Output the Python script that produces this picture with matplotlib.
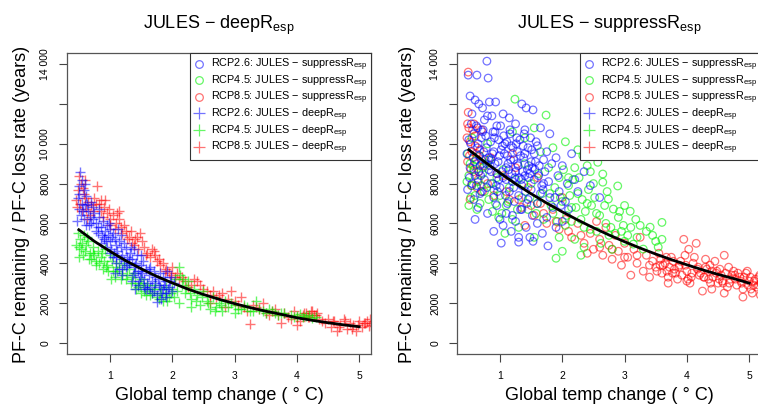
import matplotlib
matplotlib.use("Agg")
import matplotlib.pyplot as plt
from matplotlib.lines import Line2D

plt.rcParams['font.family'] = ['Liberation Sans', 'DejaVu Sans']
plt.rcParams['mathtext.fontset'] = 'custom'
plt.rcParams['mathtext.rm'] = 'Liberation Sans'
plt.rcParams['mathtext.it'] = 'Liberation Sans:italic'

# ---- data ----
# left panel: JULES - deepR_esp ('+' markers)
deep26_x = [0.52, 0.55, 0.50, 0.58, 0.62, 0.48, 0.55, 0.60, 0.50, 0.65, 0.53, 0.58, 0.47, 0.62, 0.68, 0.72, 0.75, 0.70,
            0.78, 0.82, 0.85, 0.88, 0.80, 0.92, 0.95, 0.90, 0.97, 1.00, 0.85, 0.95, 1.00, 1.02,
            1.05, 1.08, 1.10, 1.12, 1.05, 1.15, 1.18, 1.20, 1.10, 1.22, 1.25, 1.28, 1.15, 1.25, 1.30, 1.08, 1.20, 1.32, 1.18,
            1.35, 1.38, 1.40, 1.42, 1.45, 1.48, 1.50, 1.35, 1.45, 1.52, 1.55, 1.58, 1.40, 1.55, 1.60, 1.50, 1.38,
            1.62, 1.65, 1.68, 1.70, 1.72, 1.75, 1.78, 1.80, 1.82, 1.85, 1.88, 1.90, 1.92, 1.95, 1.98, 2.02, 1.75, 1.65, 1.85, 2.00,
            0.50, 0.57, 0.63, 0.67, 0.73, 0.77, 0.83, 0.87, 0.93, 0.98, 1.03, 1.07, 1.13, 1.17, 1.23, 1.27, 1.33, 1.37, 1.43, 1.47,
            1.53, 1.57, 1.63, 1.67, 1.73, 1.77, 1.83, 1.87, 1.93, 1.97, 0.60, 0.70, 0.80, 0.90, 1.00, 1.10, 1.20, 1.30, 1.40, 1.50,
            1.60, 1.70, 1.80, 1.90]
deep26_y = [8600, 8200, 7900, 7700, 7400, 7300, 7000, 6900, 6700, 6600, 6400, 6200, 6100, 5900, 6300, 6800, 6500, 7100,
            6000, 6300, 5800, 6100, 5500, 5600, 5900, 5200, 5400, 5700, 5000, 4800, 5100, 4700,
            5500, 5200, 4900, 4600, 4300, 5100, 4800, 4400, 4000, 4100, 4700, 4300, 3700, 3800, 4000, 3500, 3400, 4500, 5400,
            4200, 3800, 3500, 4000, 3600, 3300, 3900, 3100, 2900, 3500, 3200, 3700, 2700, 2800, 3000, 4400, 4700,
            3400, 2800, 3100, 2600, 3300, 2400, 2900, 3500, 2200, 2700, 3100, 2500, 3600, 2800, 3300, 3000, 2050, 3800, 3300, 2600,
            7500, 6600, 7000, 5900, 6200, 5600, 6700, 5400, 5100, 6000, 5300, 4500, 5700, 4200, 5000, 3900, 4800, 3400, 4400, 3100,
            4100, 2700, 3700, 2500, 3000, 3200, 2500, 2900, 2700, 3100, 8000, 6000, 5800, 5300, 4500, 4300, 3700, 4200, 3900, 3600,
            2700, 3600, 2800, 2300]

deep45_x = [0.48, 0.52, 0.50, 0.55, 0.58, 0.60, 0.62, 0.65, 0.50, 0.68, 0.70, 0.72, 0.75, 0.78, 0.80,
            0.85, 0.88, 0.90, 0.95, 1.00, 1.05, 1.08, 1.10, 1.15, 1.20, 1.25, 1.30, 0.92, 1.02,
            1.35, 1.40, 1.45, 1.50, 1.55, 1.60, 1.65, 1.70, 1.75, 1.80, 1.85, 1.90, 1.95, 1.50,
            2.00, 2.05, 2.10, 2.12, 2.15, 2.20, 2.25, 2.30, 2.35, 2.40, 2.45, 2.50, 2.55, 2.60, 2.65, 2.70, 2.75, 2.80, 2.10, 2.30,
            2.85, 2.90, 3.00, 3.10, 3.20, 3.30, 3.40, 3.50, 3.60, 3.70, 3.80, 3.90, 4.00, 4.10, 4.20, 4.30, 3.00, 3.35,
            0.46, 0.53, 0.57, 0.63, 0.67, 0.73, 0.77, 0.83, 0.87, 0.93, 0.97, 1.03, 1.12, 1.18, 1.22, 1.28, 1.33, 1.38, 1.42, 1.48,
            1.53, 1.58, 1.62, 1.68, 1.72, 1.78, 1.82, 1.88, 1.92, 1.98, 2.02, 2.08, 2.18, 2.22, 2.28, 2.38, 2.48, 2.58, 2.68, 2.78,
            2.95, 3.05, 3.15, 3.25, 3.45, 3.55, 3.65, 3.75, 3.95, 4.05, 4.15, 4.25]
deep45_y = [5500, 5200, 4800, 5000, 5400, 4600, 4900, 5100, 4300, 4500, 4200, 4800, 4400, 3900, 4600,
            4300, 3700, 4100, 3900, 4400, 3600, 3300, 3800, 4000, 3500, 3200, 3700, 4700, 3200,
            3300, 3000, 2800, 3200, 2600, 2900, 2400, 2700, 2300, 2500, 2100, 2800, 2300, 2500,
            2700, 3200, 3800, 3400, 2900, 2500, 3100, 2200, 2700, 2400, 1900, 2600, 2100, 1700, 2300, 1800, 2000, 1600, 2000, 1800,
            2100, 1800, 1900, 1700, 1800, 1600, 1700, 1500, 1600, 1400, 1500, 1400, 1350, 1300, 1400, 1300, 1500, 2100,
            4900, 4700, 4400, 5300, 4200, 4500, 4100, 4000, 4500, 3800, 3600, 4100, 3600, 3200, 3900, 3400, 3000, 3500, 2700, 2900,
            3000, 2400, 2700, 2500, 2900, 2200, 2700, 2400, 2100, 2500, 2300, 2600, 3200, 2800, 2500, 2100, 2300, 2000, 1600, 1900,
            2000, 1700, 1900, 1600, 1600, 1700, 1500, 1500, 1300, 1450, 1350, 1250]

deep85_x = [0.50, 0.53, 0.48, 0.57, 0.60, 0.52, 0.65, 0.55, 0.47, 0.62, 0.70, 0.79, 0.75, 0.68,
            0.82, 0.85, 0.90, 0.88, 0.95, 1.00, 1.05, 1.10, 1.15, 1.08, 1.18, 1.20, 1.00,
            1.25, 1.30, 1.35, 1.40, 1.45, 1.48, 1.55, 1.60, 1.65, 1.70, 1.75, 1.80,
            1.85, 1.90, 1.95, 2.00, 2.05, 2.10, 2.20, 2.30, 2.40, 2.50, 2.55,
            2.65, 2.70, 2.80, 2.90, 3.00, 3.10, 3.15, 3.20, 3.25, 3.30, 3.40, 3.45, 3.50, 2.60, 2.85,
            3.60, 3.70, 3.80, 3.90, 4.00, 4.05, 4.10, 4.15, 4.20, 4.25, 4.30, 4.35, 3.75, 4.00,
            4.45, 4.50, 4.55, 4.60, 4.70, 4.75, 4.80, 4.85, 4.90, 4.95, 5.00, 5.05, 5.10, 5.15, 5.18, 4.65,
            0.45, 0.58, 0.63, 0.72, 0.77, 0.92, 0.98, 1.12, 1.22, 1.28, 1.33, 1.38, 1.43, 1.52, 1.58, 1.68, 1.72, 1.78, 1.88, 1.98,
            2.08, 2.15, 2.25, 2.35, 2.45, 2.60, 2.75, 2.95, 3.05, 3.35, 3.55, 3.65, 3.85, 3.95, 4.12, 4.18, 4.22, 4.28, 4.32, 4.40,
            4.58, 4.68, 4.78, 4.88, 4.98, 5.08, 5.12, 5.19, 0.60, 0.85, 1.15]
deep85_y = [8400, 8000, 7700, 7800, 7300, 7000, 7100, 6600, 6800, 6700, 6900, 7900, 7300, 6400,
            7000, 6600, 6800, 6300, 6500, 6200, 6400, 6000, 6200, 5700, 5800, 5500, 5900,
            5600, 5300, 5000, 5200, 4700, 5500, 4800, 4500, 4300, 4600, 4100, 3900,
            4000, 3700, 3500, 3800, 3300, 3200, 3100, 2900, 3100, 2700, 2600,
            2600, 2300, 2500, 2200, 2100, 2300, 1800, 1600, 950, 1900, 1700, 2000, 1500, 2000, 1800,
            1600, 1400, 1500, 1200, 1300, 1100, 1400, 1500, 1300, 1600, 1400, 1200, 1000, 900,
            1000, 1200, 800, 1100, 900, 1200, 700, 1000, 900, 600, 1100, 800, 1000, 850, 1200, 600,
            7200, 7500, 6200, 6600, 7000, 7200, 6700, 6500, 5900, 5200, 5600, 4900, 5300, 5100, 4400, 4700, 4400, 4200, 3600, 3400,
            3500, 3300, 2800, 3200, 2900, 2400, 2400, 2600, 1900, 1800, 1400, 1700, 1300, 1600, 1500, 1300, 1600, 1400, 1500, 1100,
            1100, 800, 1100, 700, 900, 1000, 1100, 900, 8200, 7200, 6600]

# right panel: JULES - suppressR_esp ('o' markers)
supp26_x = [0.49, 0.63, 0.79, 0.81, 0.52, 0.60, 0.66, 0.72, 0.83, 0.93, 1.35, 1.42, 1.53, 0.55, 0.75, 0.87, 1.05, 1.15, 1.25, 0.95, 1.40, 1.65, 1.80,
            0.50, 0.58, 0.65, 0.70, 0.78, 0.85, 0.90, 0.98, 1.02, 1.08, 1.12, 1.18, 1.22, 1.28, 1.32, 1.38, 1.45, 1.50, 1.55, 1.60, 1.70, 1.75, 1.90, 2.00, 2.15, 2.35, 2.20,
            0.52, 0.60, 0.68, 0.75, 0.82, 0.88, 0.95, 1.00, 1.05, 1.10, 1.15, 1.20, 1.25, 1.30, 1.35, 1.40, 1.45, 1.50, 1.55, 1.60, 1.65, 1.70, 1.80, 1.85, 1.95, 2.05, 2.10, 0.70, 0.90, 1.12, 0.58, 0.48,
            0.65, 0.80, 0.95, 1.00, 1.05, 1.10, 1.18, 1.25, 1.30, 1.35, 1.42, 1.48, 1.53, 1.60, 1.68, 1.77, 1.02, 1.30, 1.75, 1.90, 2.00,
            0.47, 0.51, 0.54, 0.57, 0.62, 0.64, 0.67, 0.69, 0.73, 0.76, 0.79, 0.82, 0.86, 0.89, 0.92, 0.96, 0.99, 1.03, 1.06, 1.09,
            1.13, 1.16, 1.19, 1.23, 1.26, 1.29, 1.33, 1.36, 1.39, 1.43, 1.46, 1.49, 1.52, 1.56, 1.58, 1.62, 1.67, 1.72, 1.78, 1.83,
            1.88, 1.93, 1.98, 2.08, 2.25, 2.45, 2.60, 0.55, 0.62, 0.68, 0.74, 0.80, 0.86, 0.92, 0.98, 1.04, 1.10, 1.16, 1.22, 1.28,
            1.34, 1.40, 1.46, 1.52, 0.60, 0.90, 1.20,
            0.53, 0.59, 0.64, 0.71, 0.77, 0.84, 0.91, 0.97, 1.01, 1.07, 1.14, 1.21, 1.27, 1.31, 1.37, 1.44, 1.51, 1.57, 0.66, 0.72,
            0.88, 0.94, 1.11, 1.17, 1.24, 1.33, 1.41, 1.48, 1.63, 1.69]
supp26_y = [13450, 13450, 14150, 13300, 12400, 12200, 12000, 11800, 12100, 12100, 12000, 11800, 11700, 11500, 11200, 11400, 11500, 11300, 11000, 10900, 10700, 10800, 10500,
            10200, 10500, 10000, 10300, 9800, 10100, 9600, 10200, 9700, 10000, 9400, 9900, 9200, 9600, 10200, 9300, 9800, 9100, 9500, 9900, 9200, 9600, 9300, 8900, 9500, 8600, 8200,
            8800, 8400, 8900, 8200, 8700, 8000, 8500, 7800, 8300, 8800, 7600, 8100, 8600, 7400, 7900, 8400, 7200, 7700, 8200, 7000, 7500, 8000, 7300, 6800, 7600, 7100, 6700, 7600, 7300, 7000, 7200, 7700,
            6800, 6500, 6900, 6200, 5900, 6500, 5600, 6100, 5300, 6700, 5800, 5300, 5100, 6000, 5500, 4870, 5010, 5060, 6300, 5800, 6100,
            9500, 8300, 11000, 9300, 7900, 10800, 9400, 8400, 10700, 9200, 7800, 9300, 8600, 10600, 9000, 7600, 9400, 8600, 10400, 7400,
            9000, 10500, 8500, 7100, 10000, 8900, 6700, 8600, 10500, 7000, 8900, 10300, 6400, 8700, 10100, 8400, 7900, 8600, 8100, 9000,
            7300, 8400, 6900, 8000, 7600, 7900, 7300, 8000, 10900, 7500, 9600, 11400, 9200, 10600, 8200, 9900, 8200, 10700, 7800, 9000,
            8200, 9500, 8300, 8800, 6200, 5600, 6400,
            10000, 9100, 9800, 9000, 10400, 8900, 10300, 9100, 10900, 9500, 8700, 9800, 10300, 8300, 9900, 8700, 9700, 9100, 8600, 10600,
            9500, 7900, 10100, 9200, 8300, 9400, 7600, 8500, 8900, 7700]

supp45_x = [0.48, 0.52, 0.50, 0.55, 0.58, 0.60, 0.62, 0.65, 0.68, 0.72, 0.75, 0.50, 0.78, 0.82, 0.85, 0.88, 0.90, 0.95, 0.98, 0.55, 0.80,
            1.00, 1.05, 1.08, 1.10, 1.15, 1.20, 1.24, 1.25, 1.30, 1.35, 1.40, 1.45, 1.50, 1.55, 1.60, 1.65, 1.70, 1.40, 1.55, 1.74, 1.20, 1.62,
            1.80, 1.85, 1.90, 1.95, 2.00, 2.05, 2.10, 2.15, 2.20, 2.25, 2.30, 2.33, 2.35, 2.40, 2.45, 2.50, 2.55, 2.57, 2.45, 1.85, 2.05, 2.20, 2.00, 2.30,
            2.65, 2.65, 2.74, 2.82, 2.89, 2.70, 2.75, 2.80, 2.90, 2.95, 3.00, 3.09, 3.10, 3.14, 3.20, 3.30, 3.35, 3.41, 3.50, 3.54, 3.60, 3.60, 2.62, 3.00,
            0.47, 0.53, 0.57, 0.63, 0.67, 0.70, 0.73, 0.83, 0.93, 1.03, 1.13, 1.28, 1.38, 1.48, 1.58, 1.68, 1.78, 1.82, 1.88, 1.92,
            1.97, 2.02, 2.07, 2.12, 2.17, 2.22, 2.27, 2.32, 2.37, 2.42, 2.47, 2.52, 2.60, 2.68, 2.72, 2.78, 2.85, 2.92, 2.98, 3.05,
            3.18, 3.25, 3.45, 1.95, 2.15, 2.35, 2.55, 2.10, 2.40, 2.25]
supp45_y = [9500, 9000, 8400, 7900, 8700, 7400, 9200, 8100, 7000, 8500, 7600, 6900, 9000, 7200, 8000, 6600, 7700, 8300, 6300, 10300, 10000,
            7400, 8700, 5500, 6900, 7800, 6200, 12240, 8200, 5800, 7300, 9000, 6700, 8000, 5300, 7000, 9600, 6200, 10300, 10800, 11440, 10600, 8500,
            7500, 6500, 4250, 8300, 7100, 5900, 7900, 6800, 5200, 7500, 6200, 9400, 4800, 7000, 5700, 8000, 6500, 9070, 8600, 9800, 10100, 8800, 4600, 4400,
            8480, 8070, 7220, 6720, 7880, 6000, 5400, 4700, 6300, 5600, 5100, 6610, 5800, 4960, 5300, 4710, 5600, 5810, 5100, 4810, 6050, 5200, 5000, 6900,
            8100, 7300, 8900, 6700, 9400, 7900, 8800, 9200, 7000, 6500, 7100, 6700, 8000, 7300, 6500, 7500, 8800, 6900, 7800, 6100,
            7300, 8700, 6400, 7400, 8200, 6800, 8300, 7200, 6600, 7700, 6900, 7300, 6400, 6900, 7600, 5800, 5500, 6600, 5900, 5400,
            6200, 5900, 5400, 5300, 6100, 5800, 5600, 8300, 8900, 9700]

supp85_x = [0.49, 0.49, 0.50, 0.52, 0.55, 0.48, 0.58, 0.60, 0.62, 0.65, 0.68, 0.72, 0.75, 0.52, 0.80, 0.85, 0.90, 0.58, 0.70,
            1.05, 1.15, 1.25, 1.35, 1.45, 1.55, 1.65, 1.75, 1.85, 1.95, 2.05, 2.15, 2.25, 2.35, 1.20, 1.60, 2.00, 1.40,
            2.45, 2.50, 2.55, 2.60, 2.65, 2.70, 2.75, 2.80, 2.85, 2.90, 2.95, 3.00, 3.05, 3.10, 3.15, 3.20, 3.25, 3.30, 3.35, 3.40, 3.45, 3.50,
            3.55, 3.60, 3.65, 3.70, 3.75, 3.80, 3.85, 3.90, 3.95, 4.00, 4.05, 4.10, 4.15, 4.20, 4.25, 4.30, 4.35, 4.40, 4.45, 4.50,
            4.55, 4.60, 4.65, 4.70, 4.75, 4.80, 4.85, 4.90, 4.95, 5.00, 5.05, 5.10, 5.15, 5.18, 4.00, 3.70, 4.40,
            0.47, 0.51, 0.53, 0.56, 0.60, 0.63, 0.66, 0.70, 0.48, 0.54, 0.62, 0.95, 1.10, 1.30, 1.50, 1.70, 1.90, 2.10, 2.30, 2.40,
            2.60, 2.80, 3.00, 3.20, 3.40, 3.52, 3.58, 3.62, 3.68, 3.72, 3.78, 3.82, 3.88, 3.92, 3.98, 4.02, 4.08, 4.12, 4.18, 4.22,
            4.28, 4.32, 4.38, 4.42, 4.48, 4.52, 4.58, 4.62, 4.68, 4.72, 4.78, 4.82, 4.88, 4.92, 4.98, 5.02, 5.08, 5.12, 5.16, 5.19,
            4.30, 4.60, 4.90,
            3.57, 3.67, 3.77, 3.87, 3.97, 4.07, 4.17, 4.27, 4.37, 4.47, 4.57, 4.67, 4.77, 4.87, 4.97, 5.07, 5.17, 4.03, 4.53, 5.03]
supp85_y = [13600, 11580, 10800, 10100, 9600, 9100, 8600, 10400, 9000, 8200, 9700, 7600, 8900, 7200, 8000, 9300, 7400, 11000, 10700,
            8400, 7200, 8800, 6800, 7800, 6400, 7000, 6000, 6700, 5700, 6200, 5300, 6000, 5000, 9500, 8300, 7300, 5900,
            5500, 4700, 6100, 5200, 4400, 5800, 4900, 4200, 5400, 4600, 3900, 5000, 4300, 3400, 4700, 4000, 5300, 3600, 4400, 3300, 4100, 3800,
            4500, 3500, 4000, 3300, 4300, 3700, 3200, 4100, 5200, 3600, 3000, 4000, 5000, 3400, 2600, 3800, 3200, 3600, 4100, 3000,
            3400, 4400, 2800, 3200, 3600, 2900, 3300, 2700, 3500, 3100, 2500, 3200, 2900, 2400, 3100, 3000, 2700,
            10300, 9400, 8700, 10700, 9900, 7800, 8600, 9200, 11000, 7900, 9500, 8500, 7600, 7200, 6900, 6500, 6100, 5600, 5400, 4500,
            4800, 4700, 4300, 4400, 3900, 3600, 4200, 3900, 3600, 3800, 4100, 3500, 3900, 3400, 3900, 3200, 3500, 4300, 3800, 3500,
            3300, 3700, 3000, 3300, 3600, 3200, 3000, 3500, 3000, 3400, 3200, 3500, 3000, 3300, 2900, 3300, 3100, 2800, 3300, 3000,
            4200, 2500, 2300,
            3900, 4300, 3500, 3800, 4400, 3300, 3700, 3300, 3900, 3500, 3100, 3800, 3400, 3100, 3600, 2900, 3400, 4700, 3700, 2700]

# fitted curves
fit_x = [0.5, 0.75, 1.0, 1.25, 1.5, 1.75, 2.0, 2.25, 2.5, 2.75, 3.0, 3.25, 3.5, 3.75, 4.0, 4.25, 4.5, 4.75, 5.0]
fit_deep = [5680, 5100, 4600, 4130, 3720, 3340, 3010, 2700, 2430, 2190, 1970, 1770, 1590, 1430, 1260, 1130, 1010, 905, 810]
fit_supp = [9700, 9100, 8530, 7990, 7490, 7020, 6580, 6170, 5780, 5420, 5080, 4760, 4460, 4180, 3920, 3670, 3440, 3230, 3000]

yticks = [0, 2000, 4000, 6000, 8000, 10000, 12000, 14000]
ytick_labels = ['0', '2000', '4000', '6000', '8000', '10 000', '', '14 000']
xticks = [1, 2, 3, 4, 5]

blue = (0, 0, 1, 0.55)
green = (0, 0.95, 0, 0.6)
red = (1, 0, 0, 0.55)

legend_labels = [r'RCP2.6: JULES $-$ suppressR$_{\mathrm{esp}}$',
                 r'RCP4.5: JULES $-$ suppressR$_{\mathrm{esp}}$',
                 r'RCP8.5: JULES $-$ suppressR$_{\mathrm{esp}}$',
                 r'RCP2.6: JULES $-$ deepR$_{\mathrm{esp}}$',
                 r'RCP4.5: JULES $-$ deepR$_{\mathrm{esp}}$',
                 r'RCP8.5: JULES $-$ deepR$_{\mathrm{esp}}$']

fig = plt.figure(figsize=(7.58, 4.08), dpi=100)
W, H = 758.0, 408.0
ax1 = fig.add_axes([67 / W, 54 / H, 304 / W, 301 / H])
ax2 = fig.add_axes([457 / W, 54 / H, 304 / W, 301 / H])


def style_axis(ax):
    ax.set_xlim(0.31, 5.19)
    ax.set_ylim(-560, 14560)
    ax.set_xticks(xticks)
    ax.set_xticklabels([str(t) for t in xticks])
    ax.set_yticks(yticks)
    ax.set_yticklabels(ytick_labels, rotation=90, va='center')
    ax.tick_params(axis='both', length=6, width=0.8, color='#444444', labelsize=7.5, pad=6)
    for sp in ax.spines.values():
        sp.set_color('#555555')
        sp.set_linewidth(0.9)


def add_legend(ax):
    handles = []
    for c in (blue, green, red):
        handles.append(Line2D([], [], ls='', marker='o', markersize=5.5, mfc='none', mec=c, mew=0.9))
    for c in (blue, green, red):
        handles.append(Line2D([], [], ls='', marker='+', markersize=8, mec=c, mew=0.9))
    leg = ax.legend(handles, legend_labels, loc='upper right', bbox_to_anchor=(1, 1), borderaxespad=0,
                    fancybox=False, framealpha=1, edgecolor='#333333', fontsize=7.8,
                    handlelength=1.0, handletextpad=0.6, labelspacing=0.02, borderpad=0.35)
    leg.get_frame().set_linewidth(0.8)


# left: deep
plus_kw = dict(marker='+', s=55, linewidths=1.0)
ax1.scatter(deep85_x, deep85_y, color=red, **plus_kw)
ax1.scatter(deep45_x, deep45_y, color=green, **plus_kw)
ax1.scatter(deep26_x, deep26_y, color=blue, **plus_kw)
ax1.plot(fit_x, fit_deep, color='black', lw=2)
style_axis(ax1)
add_legend(ax1)

# right: suppress
circ_kw = dict(marker='o', s=30, facecolors='none', linewidths=0.9)
ax2.scatter(supp85_x, supp85_y, edgecolors=red, **circ_kw)
ax2.scatter(supp45_x, supp45_y, edgecolors=green, **circ_kw)
ax2.scatter(supp26_x, supp26_y, edgecolors=blue, **circ_kw)
ax2.plot(fit_x, fit_supp, color='black', lw=2)
style_axis(ax2)
add_legend(ax2)

# titles and axis labels
fig.text(219 / W, 1 - 25 / H, r'JULES $-$ deepR$_{\mathrm{esp}}$', ha='center', va='center', fontsize=13)
fig.text(609 / W, 1 - 25 / H, r'JULES $-$ suppressR$_{\mathrm{esp}}$', ha='center', va='center', fontsize=13)
for cx in (219, 609):
    fig.text(cx / W, 1 - 396 / H, 'Global temp change ( \u00b0 C)', ha='center', va='center', fontsize=13)
for cx in (22, 407):
    fig.text(cx / W, 1 - 204 / H, 'PF-C remaining / PF-C loss rate (years)', ha='center', va='center',
             rotation=90, fontsize=13)

fig.savefig('out.png', dpi=100)
